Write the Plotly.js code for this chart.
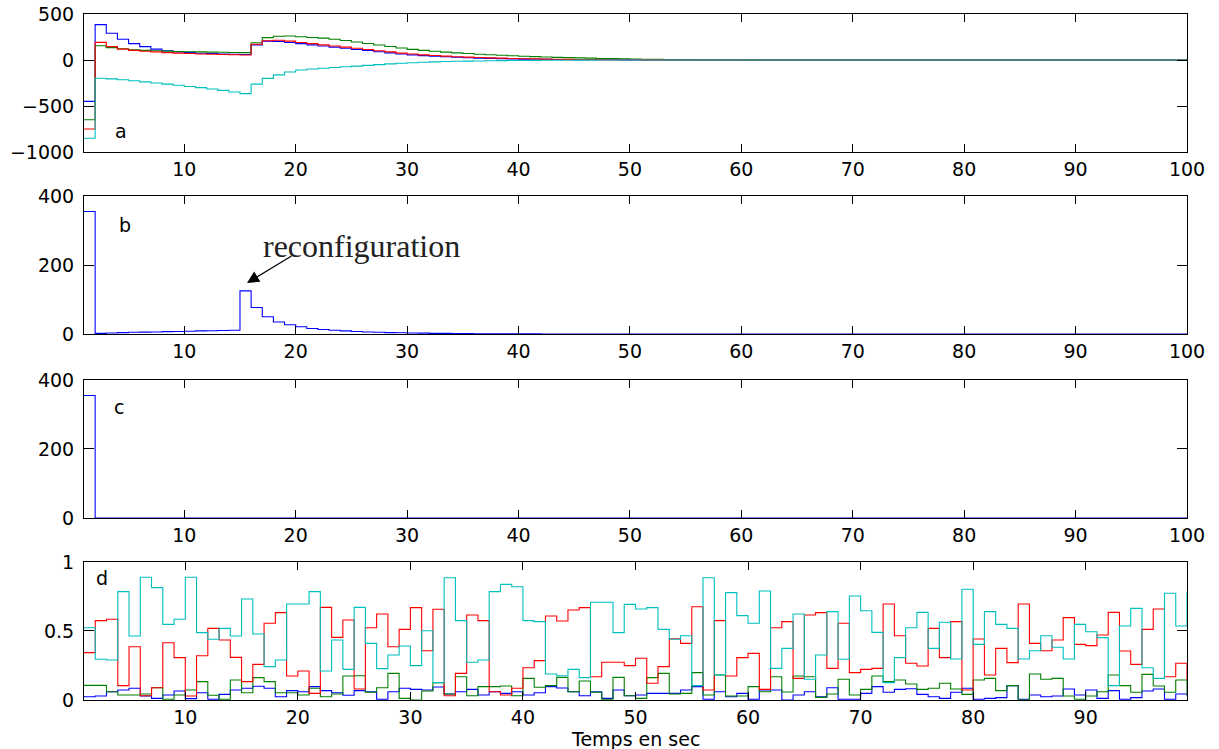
<!DOCTYPE html>
<html>
<head>
<meta charset="utf-8">
<script src="https://cdn.plot.ly/plotly-3.0.1.min.js"></script>
<style>html,body{margin:0;padding:0;background:#fff;}#chart{width:1219px;height:749px;}</style>
</head>
<body>
<div id="chart"></div>
<script>
// ---- Panel a (t = 1..100 s) ----
const aBlue = [-450, 385, 290, 225, 178, 145, 118, 100, 88, 80,
  74, 70, 66, 63, 60, 165, 205, 203, 190, 178,
  165, 152, 140, 128, 115, 103, 90, 78, 65, 56,
  48, 41, 35, 30, 25, 21, 18, 15, 12, 10,
  8, 7, 6, 5, 4, 3, 2, 2, 1, 1,
  0, 0, 0, 0, 0, 0, 0, 0, 0, 0,
  0, 0, 0, 0, 0, 0, 0, 0, 0, 0,
  0, 0, 0, 0, 0, 0, 0, 0, 0, 0,
  0, 0, 0, 0, 0, 0, 0, 0, 0, 0,
  0, 0, 0, 0, 0, 0, 0, 0, 0, 0];
const aGreen = [-650, 155, 135, 122, 112, 105, 100, 96, 93, 90,
  88, 86, 84, 82, 80, 188, 243, 258, 261, 252,
  245, 238, 225, 212, 195, 180, 163, 146, 130, 116,
  105, 95, 86, 78, 70, 63, 57, 51, 46, 41,
  37, 33, 29, 26, 23, 20, 17, 15, 13, 11,
  9, 8, 6, 5, 4, 3, 3, 2, 2, 1,
  1, 0, 0, 0, 0, 0, 0, 0, 0, 0,
  0, 0, 0, 0, 0, 0, 0, 0, 0, 0,
  0, 0, 0, 0, 0, 0, 0, 0, 0, 0,
  0, 0, 0, 0, 0, 0, 0, 0, 0, 0];
const aRed = [-750, 192, 145, 118, 105, 95, 88, 80, 75, 70,
  66, 63, 60, 57, 55, 172, 210, 215, 205, 190,
  178, 165, 152, 140, 128, 115, 100, 88, 75, 65,
  56, 49, 42, 36, 31, 27, 23, 20, 17, 14,
  12, 10, 8, 7, 6, 5, 4, 3, 2, 2,
  1, 1, 0, 0, 0, 0, 0, 0, 0, 0,
  0, 0, 0, 0, 0, 0, 0, 0, 0, 0,
  0, 0, 0, 0, 0, 0, 0, 0, 0, 0,
  0, 0, 0, 0, 0, 0, 0, 0, 0, 0,
  0, 0, 0, 0, 0, 0, 0, 0, 0, 0];
const aCyan = [-850, -199, -205, -214, -226, -238, -250, -262, -275, -288,
  -300, -315, -330, -348, -365, -262, -200, -162, -130, -108,
  -98, -90, -82, -74, -66, -58, -50, -42, -35, -29,
  -24, -20, -17, -14, -12, -10, -8, -7, -6, -5,
  -4, -3, -2, -2, -1, -1, 0, 0, 0, 0,
  0, 0, 0, 0, 0, 0, 0, 0, 0, 0,
  0, 0, 0, 0, 0, 0, 0, 0, 0, 0,
  0, 0, 0, 0, 0, 0, 0, 0, 0, 0,
  0, 0, 0, 0, 0, 0, 0, 0, 0, 0,
  0, 0, 0, 0, 0, 0, 0, 0, 0, 0];

// ---- Panel b (t = 1..100 s) ----
const bBlue = [355, 2, 3, 4, 5, 5.5, 6, 7, 7.5, 8,
  9, 9.5, 10, 11, 125, 77, 50, 35, 27, 21,
  16, 13, 11, 9, 7.5, 6, 5, 4, 3.5, 3,
  2.5, 2, 1.8, 1.5, 1.2, 1, 0.8, 0.6, 0.5, 0.4,
  0.3, 0.2, 0.2, 0.1, 0.1, 0, 0, 0, 0, 0,
  0, 0, 0, 0, 0, 0, 0, 0, 0, 0,
  0, 0, 0, 0, 0, 0, 0, 0, 0, 0,
  0, 0, 0, 0, 0, 0, 0, 0, 0, 0,
  0, 0, 0, 0, 0, 0, 0, 0, 0, 0,
  0, 0, 0, 0, 0, 0, 0, 0, 0, 0];

// ---- Panel c ----
const cTime = [1, 2, 100];
const cBlue = [355, 0, 0];

// ---- Panel d (t = 1..99 s) ----
const dCyan = [0.524, 0.295, 0.29, 0.785, 0.464, 0.889, 0.814, 0.548, 0.585, 0.889,
  0.488, 0.44, 0.519, 0.464, 0.732, 0.478, 0.242, 0.29, 0.696, 0.696,
  0.785, 0.21, 0.435, 0.222, 0.671, 0.41, 0.227, 0.326, 0.391, 0.249,
  0.502, 0.126, 0.886, 0.575, 0.273, 0.29, 0.785, 0.838, 0.821, 0.575,
  0.568, 0.188, 0.176, 0.222, 0.162, 0.708, 0.708, 0.488, 0.693, 0.659,
  0.669, 0.512, 0.44, 0.466, 0.104, 0.886, 0.181, 0.778, 0.611, 0.556,
  0.79, 0.229, 0.374, 0.623, 0.15, 0.326, 0.64, 0.295, 0.754, 0.647,
  0.49, 0.126, 0.307, 0.524, 0.635, 0.374, 0.563, 0.297, 0.802, 0.403,
  0.64, 0.548, 0.519, 0.297, 0.357, 0.466, 0.382, 0.297, 0.548, 0.495,
  0.452, 0.104, 0.536, 0.664, 0.234, 0.157, 0.773, 0.536, 0.785];
const dRed = [0.343, 0.575, 0.585, 0.104, 0.386, 0.031, 0.089, 0.415, 0.307, 0.029,
  0.321, 0.519, 0.435, 0.309, 0.133, 0.258, 0.556, 0.633, 0.174, 0.21,
  0.048, 0.671, 0.454, 0.58, 0.08, 0.524, 0.623, 0.386, 0.512, 0.669,
  0.357, 0.657, 0.031, 0.193, 0.616, 0.575, 0.06, 0.036, 0.085, 0.234,
  0.285, 0.609, 0.572, 0.652, 0.669, 0.169, 0.273, 0.273, 0.249, 0.302,
  0.121, 0.242, 0.444, 0.41, 0.676, 0.072, 0.575, 0.174, 0.307, 0.338,
  0.077, 0.524, 0.568, 0.157, 0.616, 0.633, 0.229, 0.556, 0.198, 0.222,
  0.229, 0.696, 0.466, 0.266, 0.246, 0.519, 0.307, 0.568, 0.072, 0.442,
  0.181, 0.374, 0.271, 0.696, 0.41, 0.357, 0.435, 0.597, 0.403, 0.394,
  0.471, 0.635, 0.355, 0.258, 0.512, 0.659, 0.169, 0.266, 0.145];
const dGreen = [0.106, 0.106, 0.06, 0.036, 0.036, 0.043, 0.089, 0.005, 0.036, 0.072,
  0.133, 0.034, 0.005, 0.145, 0.053, 0.162, 0.133, 0.053, 0.053, 0.036,
  0.085, 0.024, 0.043, 0.174, 0.176, 0.056, 0.089, 0.193, 0.012, 0,
  0.065, 0.126, 0.043, 0.169, 0.031, 0.097, 0.097, 0.101, 0.031, 0.157,
  0.092, 0.104, 0.164, 0.06, 0.138, 0.056, 0.005, 0.164, 0.031, 0.012,
  0.162, 0.193, 0.043, 0.048, 0.198, 0.036, 0.181, 0.029, 0.029, 0.097,
  0.06, 0.169, 0.058, 0.174, 0.169, 0.019, 0.043, 0.15, 0.036, 0.077,
  0.174, 0.133, 0.145, 0.116, 0.077, 0.085, 0.121, 0.08, 0.041, 0.145,
  0.157, 0.068, 0.104, 0, 0.188, 0.15, 0.157, 0.029, 0.005, 0.029,
  0.06, 0.181, 0.104, 0.056, 0.186, 0.101, 0.056, 0.145, 0.04];
const dBlue = [0.024, 0.029, 0.06, 0.072, 0.085, 0.029, 0.012, 0.036, 0.065, 0.01,
  0.053, 0.005, 0.041, 0.072, 0.085, 0.1, 0.085, 0.024, 0.068, 0.06,
  0.097, 0.068, 0.053, 0.034, 0.068, 0.06, 0.005, 0.06, 0.085, 0.077,
  0.072, 0.094, 0.043, 0.06, 0.077, 0.036, 0.06, 0.048, 0.06, 0.036,
  0.053, 0.097, 0.087, 0.06, 0.031, 0.06, 0.012, 0.072, 0.031, 0.036,
  0.048, 0.048, 0.048, 0.072, 0.097, 0.005, 0.06, 0.024, 0.048, 0.005,
  0.072, 0.072, 0, 0.036, 0.06, 0.024, 0.089, 0.005, 0.005, 0.048,
  0.097, 0.056, 0.077, 0.082, 0.041, 0.024, 0.012, 0.056, 0.085, 0.005,
  0.012, 0.017, 0.104, 0.005, 0.036, 0.024, 0.029, 0.08, 0.036, 0.072,
  0.012, 0.068, 0.005, 0.017, 0.065, 0.08, 0.005, 0.043, 0.03];

// ---- tick labels ----
const xTicksABC = [10, 20, 30, 40, 50, 60, 70, 80, 90, 100];
const xTicksD = [10, 20, 30, 40, 50, 60, 70, 80, 90];
const yTicksA = [-1000, -500, 0, 500];
const yTicksBC = [0, 200, 400];
const yTicksD = [0, 0.5, 1];
const panelLabels = ['a', 'b', 'c', 'd'];
const annotText = 'reconfiguration';
const xTitle = 'Temps en sec';

const COL = {blue: '#0000FF', green: '#008000', red: '#FF0000', cyan: '#00BFBF'};
const secs = arr => arr.map((_, i) => i + 1);

function tr(y, color, xa, ya, x) {
  return {x: x || secs(y), y: y, xaxis: xa, yaxis: ya, type: 'scatter', mode: 'lines',
    line: {shape: 'hv', color: color, width: 1.1}, hoverinfo: 'skip', showlegend: false};
}

const data = [
  tr(aBlue, COL.blue, 'x', 'y'),
  tr(aGreen, COL.green, 'x', 'y'),
  tr(aRed, COL.red, 'x', 'y'),
  tr(aCyan, COL.cyan, 'x', 'y'),
  tr(bBlue, COL.blue, 'x2', 'y2'),
  tr(cBlue, COL.blue, 'x3', 'y3', cTime),
  tr(dBlue, COL.blue, 'x4', 'y4'),
  tr(dGreen, COL.green, 'x4', 'y4'),
  tr(dRed, COL.red, 'x4', 'y4'),
  tr(dCyan, COL.cyan, 'x4', 'y4')
];

const FONT = {family: 'DejaVu Sans, Liberation Sans, sans-serif', size: 19, color: '#000'};

function xa(anchor, range, ticks) {
  return {anchor: anchor, range: range, tickvals: ticks, ticktext: ticks.map(String),
    showline: true, linecolor: '#000', linewidth: 1, mirror: 'ticks',
    ticks: 'inside', ticklen: 8, tickwidth: 1, tickcolor: '#000',
    showgrid: false, zeroline: false, tickfont: FONT, fixedrange: true};
}
function ya(anchor, dom, range, ticks) {
  return {anchor: anchor, domain: dom, range: range, tickvals: ticks,
    showline: true, linecolor: '#000', linewidth: 1, mirror: 'ticks',
    ticks: 'inside', ticklen: 10, tickwidth: 1, tickcolor: '#000',
    ticklabelstandoff: 5,
    showgrid: false, zeroline: false, tickfont: FONT, fixedrange: true};
}

const letterFont = {family: 'DejaVu Sans, Liberation Sans, sans-serif', size: 19, color: '#000'};
const annotations = [
  {xref: 'x', yref: 'y', x: 4.32, y: -772, text: panelLabels[0], showarrow: false, font: letterFont},
  {xref: 'x2', yref: 'y2', x: 4.64, y: 316, text: panelLabels[1], showarrow: false, font: letterFont},
  {xref: 'x3', yref: 'y3', x: 4.14, y: 322, text: panelLabels[2], showarrow: false, font: letterFont},
  {xref: 'x4', yref: 'y4', x: 2.64, y: 0.884, text: panelLabels[3], showarrow: false, font: letterFont},
  {xref: 'x2', yref: 'y2', x: 25.95, y: 255, text: annotText, showarrow: false,
    font: {family: 'Liberation Serif, DejaVu Serif, serif', size: 32, color: '#222'}},
  {xref: 'x2', yref: 'y2', x: 15.63, y: 148, axref: 'x2', ayref: 'y2', ax: 19.76, ay: 229,
    text: '', showarrow: true, arrowhead: 2, arrowsize: 2, arrowwidth: 1.2, arrowcolor: '#000'},
  {xref: 'paper', yref: 'paper', x: 0.5, y: -0.0575, xanchor: 'center', yanchor: 'middle',
    text: xTitle, showarrow: false,
    font: {family: 'DejaVu Sans, Liberation Sans, sans-serif', size: 19, color: '#000'}}
];

const layout = {
  width: 1219, height: 749,
  margin: {l: 84, r: 32, t: 14, b: 49},
  paper_bgcolor: '#fff', plot_bgcolor: '#fff',
  showlegend: false,
  xaxis: xa('y', [1, 100], xTicksABC),
  xaxis2: xa('y2', [1, 100], xTicksABC),
  xaxis3: xa('y3', [1, 100], xTicksABC),
  xaxis4: xa('y4', [1, 99], xTicksD),
  yaxis: ya('x', [0.7988, 1], [-1000, 500], yTicksA),
  yaxis2: ya('x2', [0.5335, 0.7347], [0, 400], yTicksBC),
  yaxis3: ya('x3', [0.2653, 0.4665], [0, 400], yTicksBC),
  yaxis4: ya('x4', [0, 0.2012], [0, 1], yTicksD),
  annotations: annotations
};

Plotly.newPlot('chart', data, layout, {staticPlot: true, displayModeBar: false});
</script>
</body>
</html>
